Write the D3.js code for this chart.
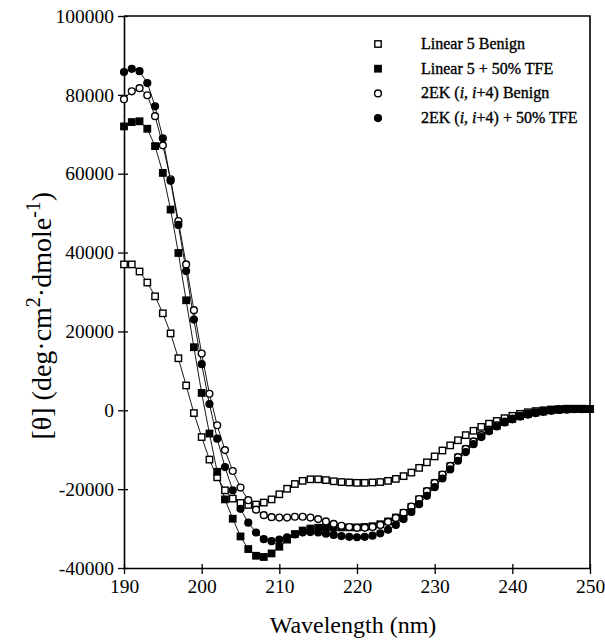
<!DOCTYPE html>
<html>
<head>
<meta charset="utf-8">
<script src="https://cdn.jsdelivr.net/npm/d3@7"></script>
<style>
  body { margin: 0; background: #fff; }
  text { font-family: "Liberation Serif", "Times New Roman", serif; fill: #000; }
</style>
</head>
<body>
<div id="chart"></div>
<script>
// wavelength grid (nm), one reading per nm
const wavelength = [190,191,192,193,194,195,196,197,198,199,200,201,202,203,204,205,206,207,208,209,
  210,211,212,213,214,215,216,217,218,219,220,221,222,223,224,225,226,227,228,229,
  230,231,232,233,234,235,236,237,238,239,240,241,242,243,244,245,246,247,248,249,250];

// molar ellipticity readings for each sample
const linearBenign = [37000,37000,35200,32400,28900,24600,19500,13200,6300,-700,
  -6800,-12500,-17000,-20300,-22400,-23500,-24000,-23900,-23400,-22600,
  -21300,-19900,-18700,-17900,-17500,-17500,-17700,-18000,-18200,-18300,
  -18400,-18400,-18300,-18200,-17900,-17400,-16700,-15800,-14600,-13200,
  -11700,-10200,-8900,-7600,-6300,-5200,-4200,-3400,-2700,-2000,
  -1400,-900,-500,-200,0,200,300,400,400,400,300];
const linearTFE = [72000,73100,73300,71400,67000,60200,50900,39900,27900,16000,
  4400,-5900,-15600,-22600,-27500,-32000,-35200,-36900,-37200,-36300,
  -34600,-32800,-31400,-30500,-30000,-29800,-29700,-29700,-29700,-29700,
  -29700,-29600,-29400,-28900,-28200,-27200,-26000,-24500,-22600,-20600,
  -18500,-16400,-14200,-12000,-9900,-8000,-6400,-5000,-3900,-3000,
  -2200,-1500,-1000,-600,-300,0,150,250,300,300,300];
const ekBenign = [78900,80900,81700,79900,74600,67200,58600,48000,37000,25400,
  14400,4200,-3800,-10100,-15400,-19600,-22800,-25200,-26600,-27100,
  -27200,-27200,-27000,-27000,-27200,-27600,-28200,-28800,-29300,-29600,
  -29800,-29800,-29600,-29100,-28300,-27300,-26000,-24400,-22500,-20500,
  -18400,-16300,-14100,-11900,-9800,-7900,-6300,-4900,-3800,-2900,
  -2100,-1400,-900,-500,-200,0,150,250,300,300,300];
const ekTFE = [85800,86600,86000,83000,77100,69000,58200,47000,35300,23000,
  11700,1600,-7200,-14400,-20300,-25000,-28500,-31000,-32700,-33200,
  -32800,-32200,-31500,-31000,-30900,-31000,-31300,-31600,-31900,-32100,
  -32200,-32100,-31800,-31200,-30300,-29100,-27600,-25800,-23800,-21700,
  -19500,-17300,-15000,-12800,-10600,-8600,-6800,-5300,-4100,-3100,
  -2300,-1600,-1100,-700,-400,-100,100,200,300,300,300];

const seriesNames = ["Linear 5 Benign", "Linear 5 + 50% TFE", "2EK (i, i+4) Benign", "2EK (i, i+4) + 50% TFE"];
const xTicks = [190, 200, 210, 220, 230, 240, 250];
const yTicks = [-40000, -20000, 0, 20000, 40000, 60000, 80000, 100000];

const width = 605, height = 642;
const margin = {left: 124, right: 15, top: 16, bottom: 74};

const svg = d3.select("#chart").append("svg")
    .attr("width", width)
    .attr("height", height);

const x = d3.scaleLinear().domain([190, 250]).range([margin.left, width - margin.right]);
const y = d3.scaleLinear().domain([-40000, 100000]).range([height - margin.bottom, margin.top]);

// frame (top and right edges)
svg.append("path")
    .attr("d", `M${x(190)},${y(100000)}H${x(250)}V${y(-40000)}`)
    .attr("fill", "none")
    .attr("stroke", "#000")
    .attr("stroke-width", 1.6);

// plain hyphen for negatives, like the printed figure
const fmt = d => String(d);

// bottom axis, ticks cross the line
const xAxis = svg.append("g")
    .attr("transform", `translate(0,${y(-40000)})`)
    .call(d3.axisBottom(x).tickValues(xTicks).tickSize(6).tickSizeOuter(0).tickFormat(fmt));
xAxis.selectAll(".tick line").attr("y1", -4).attr("stroke-width", 1.3);
xAxis.select(".domain").attr("stroke-width", 1.6);
xAxis.selectAll("text").attr("font-size", 19.5).attr("dy", "0.8em").attr("y", 9);

// left axis
const yAxis = svg.append("g")
    .attr("transform", `translate(${x(190)},0)`)
    .call(d3.axisLeft(y).tickValues(yTicks).tickSize(6).tickSizeOuter(0).tickFormat(fmt));
yAxis.selectAll(".tick line").attr("x1", 4).attr("stroke-width", 1.3);
yAxis.select(".domain").attr("stroke-width", 1.6);
yAxis.selectAll("text").attr("font-size", 19.5).attr("x", -10);
svg.selectAll(".tick text").style("font-family", "'Liberation Serif', serif");

// axis titles
svg.append("text")
    .attr("x", (x(190) + x(250)) / 2 - 4)
    .attr("y", 633)
    .attr("text-anchor", "middle")
    .attr("font-size", 24)
    .text("Wavelength (nm)");

const yTitle = svg.append("text")
    .attr("transform", `translate(51,${y(24000)}) rotate(-90)`)
    .attr("text-anchor", "middle")
    .attr("font-size", 28);
yTitle.append("tspan").text("[θ] (deg·cm");
yTitle.append("tspan").attr("baseline-shift", "super").attr("font-size", 20).text("2");
yTitle.append("tspan").text("·dmole");
yTitle.append("tspan").attr("baseline-shift", "super").attr("font-size", 20).text("-1");
yTitle.append("tspan").text(")");

const series = [
  {name: seriesNames[0], values: linearBenign, shape: "square", filled: false},
  {name: seriesNames[1], values: linearTFE, shape: "square", filled: true},
  {name: seriesNames[2], values: ekBenign, shape: "circle", filled: false},
  {name: seriesNames[3], values: ekTFE, shape: "circle", filled: true}
];

const line = d3.line()
    .x((d, i) => x(wavelength[i]))
    .y(d => y(d));

function drawMarker(g, shape, filled, cx, cy) {
    if (shape === "square") {
        g.append("rect")
            .attr("x", cx - 3.2).attr("y", cy - 3.2)
            .attr("width", 6.4).attr("height", 6.4)
            .attr("fill", filled ? "#000" : "#fff")
            .attr("stroke", "#000").attr("stroke-width", 1.4);
    } else {
        g.append("circle")
            .attr("cx", cx).attr("cy", cy).attr("r", 3.4)
            .attr("fill", filled ? "#000" : "#fff")
            .attr("stroke", "#000").attr("stroke-width", 1.4);
    }
}

// connecting lines first, then markers
series.forEach(s => {
    svg.append("path")
        .datum(s.values)
        .attr("d", line)
        .attr("fill", "none")
        .attr("stroke", "#000")
        .attr("stroke-width", 0.9);
});
series.forEach(s => {
    const g = svg.append("g");
    s.values.forEach((v, i) => drawMarker(g, s.shape, s.filled, x(wavelength[i]), y(v)));
});

// legend
const legend = svg.append("g");
series.forEach((s, i) => {
    const ly = 44 + i * 24.7;
    drawMarker(legend, s.shape, s.filled, 378, ly);
    const t = legend.append("text")
        .attr("x", 421)
        .attr("y", ly + 5)
        .attr("font-size", 16)
        .attr("stroke", "#000")
        .attr("stroke-width", 0.35);
    if (s.shape === "circle") {
        const rest = s.name.replace("2EK (i, i+4)", "");
        t.append("tspan").text("2EK (");
        t.append("tspan").attr("font-style", "italic").text("i");
        t.append("tspan").text(", ");
        t.append("tspan").attr("font-style", "italic").text("i");
        t.append("tspan").text("+4)" + rest);
    } else {
        t.text(s.name);
    }
});
</script>
</body>
</html>
